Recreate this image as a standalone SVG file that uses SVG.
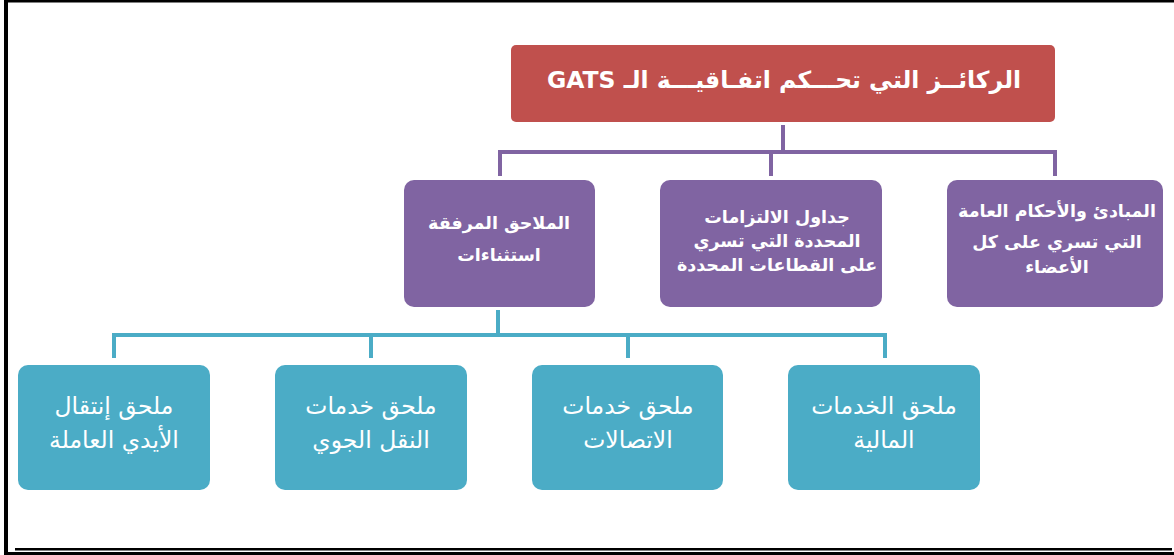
<svg xmlns="http://www.w3.org/2000/svg" width="1174" height="555" viewBox="0 0 1174 555">
<style>
.frame{fill:#000}
.red{fill:#C0504D}
.pur{fill:#8064A2}
.teal{fill:#4BACC6}
.lp{stroke:#8064A2;stroke-width:4;fill:none}
.lt{stroke:#4BACC6;stroke-width:4;fill:none}
text{fill:#fff;font-family:"DejaVu Sans","Liberation Sans",sans-serif;text-anchor:middle;direction:rtl;unicode-bidi:embed}
.t0{font-size:23.5px;font-weight:bold}
.t1{font-size:17.5px;font-weight:bold}
.t2{font-size:23.5px}
</style>
<rect width="1174" height="555" fill="#fff"/>
<g id="border">
<rect class="frame" x="4" y="0" width="1170" height="2.5"/>
<rect class="frame" x="4" y="0" width="4" height="555"/>
<rect class="frame" x="4" y="552" width="1170" height="3"/>
<rect class="frame" x="15" y="548" width="1157" height="2.5"/>
</g>
<g id="connectors">
<path class="lp" d="M783 125V152M500 176V152H1055V176M771 152V176"/>
<path class="lt" d="M498 310V335M114 358V335H885V358M371 335V358M628 335V358"/>
</g>
<g id="title">
<rect class="red" x="511" y="45" width="544" height="77" rx="5"/>
<text class="t0" x="784" y="88">الركائــز التي تحـــكم اتفـاقيـــة الـ GATS</text>
</g>
<g id="n_annex">
<rect class="pur" x="404" y="180" width="191" height="127" rx="10"/>
<text class="t1" x="499" y="229">الملاحق المرفقة</text>
<text class="t1" x="499" y="261">استثناءات</text>
</g>
<g id="n_schedules">
<rect class="pur" x="660" y="180" width="222" height="127" rx="10"/>
<text class="t1" x="777" y="223">جداول الالتزامات</text>
<text class="t1" x="777" y="247">المحددة التي تسري</text>
<text class="t1" x="777" y="271">على القطاعات المحددة</text>
</g>
<g id="n_principles">
<rect class="pur" x="947" y="180" width="216" height="127" rx="10"/>
<text class="t1" x="1057" y="217">المبادئ والأحكام العامة</text>
<text class="t1" x="1057" y="248">التي تسري على كل</text>
<text class="t1" x="1057" y="273">الأعضاء</text>
</g>
<g id="n_labor">
<rect class="teal" x="18" y="365" width="192" height="125" rx="10"/>
<text class="t2" x="114" y="414">ملحق إنتقال</text>
<text class="t2" x="114" y="448">الأيدي العاملة</text>
</g>
<g id="n_air">
<rect class="teal" x="275" y="365" width="192" height="125" rx="10"/>
<text class="t2" x="371" y="414">ملحق خدمات</text>
<text class="t2" x="371" y="448">النقل الجوي</text>
</g>
<g id="n_telecom">
<rect class="teal" x="532" y="365" width="191" height="125" rx="10"/>
<text class="t2" x="628" y="414">ملحق خدمات</text>
<text class="t2" x="628" y="448">الاتصالات</text>
</g>
<g id="n_finance">
<rect class="teal" x="788" y="365" width="192" height="125" rx="10"/>
<text class="t2" x="884" y="414">ملحق الخدمات</text>
<text class="t2" x="884" y="448">المالية</text>
</g>
</svg>
